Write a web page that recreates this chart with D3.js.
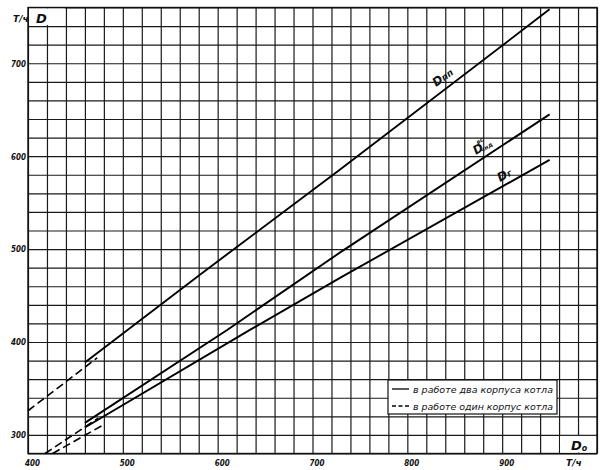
<!DOCTYPE html>
<html><head><meta charset="utf-8">
<script src="https://cdn.jsdelivr.net/npm/d3@7"></script>
<style>
body{margin:0;background:#fff;}
svg text{font-family:"DejaVu Sans",sans-serif;font-style:italic;fill:#111;}
</style></head>
<body><svg id="c" width="604" height="470"></svg>
<script>
// ---- data ----
const xTickLabels = [400, 500, 600, 700, 800, 900];
const yTickLabels = [300, 400, 500, 600, 700];
const xDomain = [400, 1000];
const yDomain = [280, 760];
// D пп
const dppSolid = [[460,378],[582,473],[727,584],[950,758]];
const dppDashed = [[400,326],[473,383]];
// D чнд (вс)
const dchndSolid = [[460,313],[610,413],[730,497],[950,645]];
const dchndDashed = [[418,280],[474,318]];
// D г
const dgSolid = [[460,308],[634,413],[729,469],[950,596]];
const dgDashed = [[426,280],[478,310]];
const legendItems = ["в работе два корпуса котла", "в работе один корпус котла"];

// ---- drawing ----
const svg = d3.select("#c");
const x = d3.scaleLinear().domain(xDomain).range([28, 597]);
const y = d3.scaleLinear().domain(yDomain).range([453.5, 7.5]);
const W = 597-28, H = 453.5-7.5;

// grid via axes
svg.append("g").attr("transform","translate(0,453.5)")
  .call(d3.axisBottom(x).ticks(30).tickSize(-H).tickFormat(""));
svg.append("g").attr("transform","translate(28,0)")
  .call(d3.axisLeft(y).ticks(24).tickSize(-W).tickFormat(""));
svg.selectAll(".tick line").attr("stroke","#1a1a1a").attr("stroke-width",1.2);
svg.selectAll(".domain").remove();
svg.append("rect").attr("x",28).attr("y",7.5).attr("width",W).attr("height",H)
  .attr("fill","none").attr("stroke","#111").attr("stroke-width",1.4);

// corner boxes (hide inner grid line)
svg.append("rect").attr("x",x(400)+1).attr("y",y(760)+1)
  .attr("width",x(440)-x(400)-2).attr("height",y(740)-y(760)-2).attr("fill","#fff");
svg.append("rect").attr("x",x(960)+1).attr("y",y(300)+1)
  .attr("width",x(1000)-x(960)-2).attr("height",y(280)-y(300)-2).attr("fill","#fff");

// tick labels
svg.append("g").attr("transform","translate(0,453.5)")
  .call(d3.axisBottom(x).tickValues(xTickLabels).tickSize(0).tickPadding(6))
  .call(g=>g.select(".domain").remove())
  .selectAll("text").attr("font-size",9).attr("font-weight","bold").attr("font-style","italic")
  .attr("dx",4).attr("textLength",15).attr("lengthAdjust","spacingAndGlyphs");
svg.append("g").attr("transform","translate(28,0)")
  .call(d3.axisLeft(y).tickValues(yTickLabels).tickSize(0).tickPadding(2))
  .call(g=>g.select(".domain").remove())
  .selectAll("text").attr("font-size",9).attr("font-weight","bold").attr("font-style","italic")
  .attr("textLength",15).attr("lengthAdjust","spacingAndGlyphs");

// axis unit labels
svg.append("text").attr("x",13).attr("y",22).attr("font-size",9).attr("font-weight","bold").text("T/ч");
svg.append("text").attr("x",36).attr("y",23).attr("font-size",13).attr("font-weight","bold").text("D");
svg.append("text").attr("x",566).attr("y",466).attr("font-size",9).attr("font-weight","bold").text("T/ч");
svg.append("text").attr("x",571).attr("y",450).attr("font-size",13).attr("font-weight","bold")
  .text("D").append("tspan").attr("font-size",8).attr("dy",1).text("о");

// curves
const line = d3.line().x(d=>x(d[0])).y(d=>y(d[1]));
[dppSolid, dchndSolid, dgSolid].forEach(s=>{
  svg.append("path").attr("d",line(s)).attr("fill","none").attr("stroke","#000").attr("stroke-width",1.9);
});
[dppDashed, dchndDashed, dgDashed].forEach(s=>{
  svg.append("path").attr("d",line(s)).attr("fill","none").attr("stroke","#000")
    .attr("stroke-width",1.6).attr("stroke-dasharray","8,4");
});

// curve labels
function lbl(px,py,ang){return svg.append("text").attr("transform",`translate(${px},${py}) rotate(${ang})`).attr("font-weight","bold");}
let t = lbl(436,87,-36).attr("font-size",12);
t.append("tspan").text("D");
t.append("tspan").attr("font-size",9).text("пп");
t = lbl(476,155,-32).attr("font-size",12);
t.append("tspan").text("D");
t.append("tspan").attr("font-size",6).attr("dx",-3).attr("dy",-8).text("вс");
t.append("tspan").attr("font-size",6).attr("dx",-8).attr("dy",9).text("чнд");
t = lbl(500,182,-30).attr("font-size",12);
t.append("tspan").text("D");
t.append("tspan").attr("font-size",9).text("г");

// legend
const lg = svg.append("g");
lg.append("rect").attr("x",388).attr("y",380).attr("width",169).attr("height",34)
  .attr("fill","#fff").attr("stroke","#111").attr("stroke-width",1.2);
legendItems.forEach((s,i)=>{
  const yy = 389 + i*17;
  lg.append("line").attr("x1",392).attr("x2",409).attr("y1",yy).attr("y2",yy)
    .attr("stroke","#000").attr("stroke-width",1.3).attr("stroke-dasharray", i? "4,2.5":null);
  lg.append("text").attr("x",413).attr("y",yy+3.5).attr("font-size",9)
    .attr("textLength",140).attr("lengthAdjust","spacingAndGlyphs").text(s);
});
</script></body></html>
